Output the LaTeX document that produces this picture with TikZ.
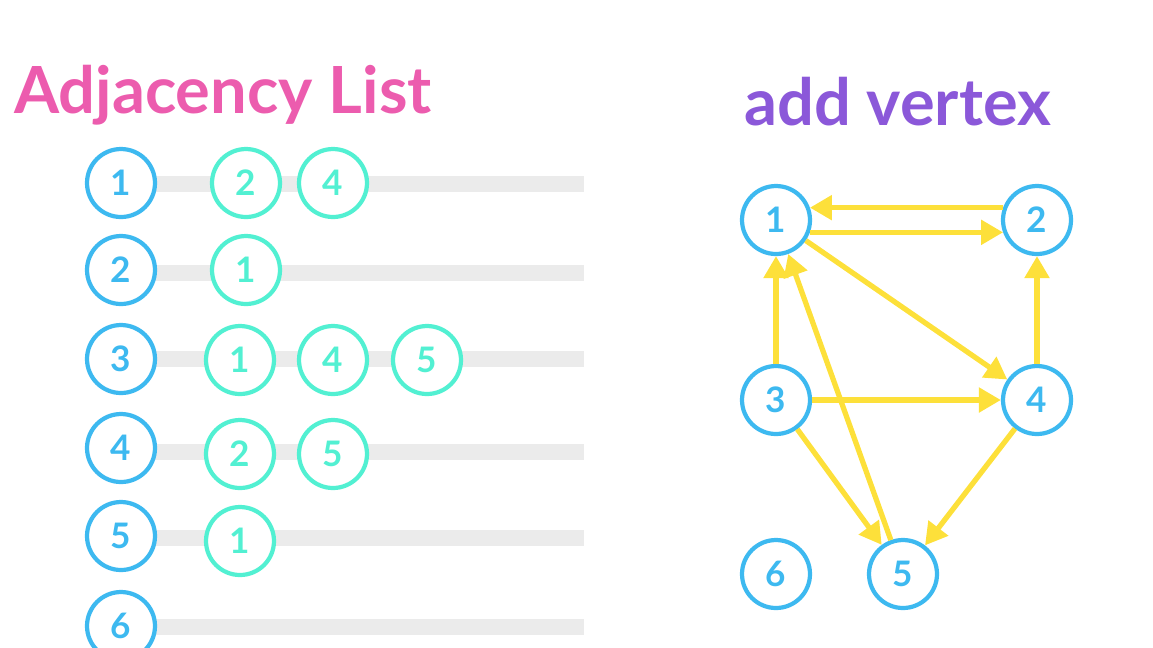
\documentclass[tikz,border=0pt]{standalone}
\usepackage{fontspec}
\setmainfont{Lato}
\usepackage{xcolor}
\usetikzlibrary{arrows.meta}
\definecolor{vblue}{HTML}{3DB9F0}
\definecolor{vteal}{HTML}{52F0D2}
\definecolor{barg}{HTML}{EBEBEB}
\definecolor{vyellow}{HTML}{FDE03A}
\definecolor{vpink}{HTML}{EC5CAE}
\definecolor{vpurple}{HTML}{8B58D9}

\begin{document}
\begin{tikzpicture}[x=0.02cm, y=-0.02cm,
    vnode/.style={circle, draw=vblue, line width=2.4pt, fill=white,
        minimum size=1.36cm, inner sep=0pt, text=vblue,
        font=\fontsize{20}{20}\selectfont\bfseries},
    anode/.style={vnode, draw=vteal, text=vteal},
    listbar/.style={draw=barg, line width=9pt},
    edge/.style={draw=vyellow, line width=3pt,
        -{Triangle[length=0.44cm, width=0.48cm]}},
    title/.style={anchor=base west, font=\fontsize{37}{37}\selectfont\bfseries}]
    \clip (0,0) rectangle (1153,647);    % 画布大小

    \node[title, text=vpink] (tlist) at (8,113) {Adjacency List};
    \node[title, text=vpurple] (tadd) at (738,125) {add vertex};

    % 邻接表
    \foreach \i/\y/\b in {1/183/184, 2/270/273, 3/359/359, 4/448/452, 5/536/538, 6/626/627} {
        \draw[listbar] (121,\b) -- (584,\b);
        \node[vnode] (l\i) at (121,\y) {\i};
    }
    \foreach \n/\x/\y/\t in {a11/246/183/2, a12/333/183/4,
            a21/246/270/1,
            a31/240/360/1, a32/333/360/4, a33/427/360/5,
            a41/240/454/2, a42/333/454/5,
            a51/240/541/1}
        \node[anode] (\n) at (\x,\y) {\t};

    % 图
    \node[vnode] (g1) at (776,220) {1};
    \node[vnode] (g2) at (1037,220) {2};
    \node[vnode] (g3) at (776,400) {3};
    \node[vnode] (g4) at (1037,400) {4};
    \node[vnode] (g5) at (903,574) {5};
    \node[vnode] (g6) at (776,574) {6};

    \draw[edge] (g2.160) -- (g1.20);
    \draw[edge] (g1.-20) -- (g2.200);
    \draw[edge] (g1) -- (g4);
    \draw[edge] (g3) -- (g1);
    \draw[edge] (g5) -- (g1);
    \draw[edge] (g3) -- (g4);
    \draw[edge] (g4) -- (g2);
    \draw[edge] (g3) -- (g5);
    \draw[edge] (g4) -- (g5);
\end{tikzpicture}
\end{document}
